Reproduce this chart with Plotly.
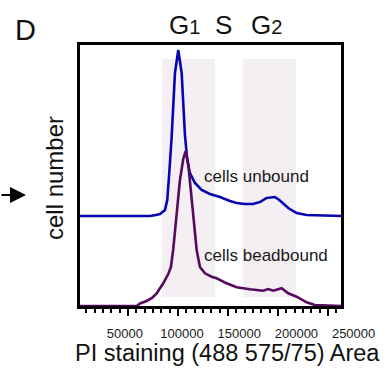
import plotly.graph_objects as go

# ---- data (PI staining area, histogram counts) ----
unbound_x = [0, 72000, 78000, 82000, 87000, 89300, 91300, 93700, 97000, 100300, 103700,
             107000, 109300, 112000, 117000, 123700, 132000, 142000, 152000, 158700,
             167000, 175000, 182000, 188700, 197000, 202000, 210300, 218700, 228700, 264000]
unbound_counts = [0, 0, 1, 2, 6, 16, 43, 79, 143, 166, 143, 81, 56, 43, 33, 26, 22, 19,
                  15, 13, 12, 12, 14, 18, 19, 15.5, 8, 3, 1, 0]

bead_x = [0, 58700, 62000, 68700, 74000, 78700, 85300, 90300, 93000, 95300, 98700, 102000,
          105300, 107700, 110300, 113700, 117000, 118700, 122000, 127000, 133700, 138700,
          148700, 158700, 172000, 185300, 190300, 195300, 203700, 210300, 218700, 228700,
          237000, 264000]
bead_counts = [1, 1, 3.5, 6, 9, 13.7, 23.7, 33, 40, 58, 93, 127, 148, 156, 143, 107, 73,
               57, 40, 33.7, 30.3, 28.7, 23.7, 19.7, 17.7, 16.3, 18, 16.3, 18.7, 13.7, 10.3,
               4.7, 2, 1]

unbound_offset = 91  # vertical stacking offset of the upper histogram

gate_ranges = [(84000, 137000), (165000, 218000)]
phase_labels = ["G<span style='font-size:20px'>1</span>", "S", "G<span style='font-size:20px'>2</span>"]
phase_pos = [107000, 146000, 189000]

tick_vals = [50000, 100000, 150000, 200000, 250000]
tick_text = ["50000", "100000", "150000", "200000", "250000"]

FONT = "Arial, Liberation Sans, sans-serif"

fig = go.Figure()
fig.add_trace(go.Scatter(x=unbound_x, y=[c + unbound_offset for c in unbound_counts],
                         mode="lines", line=dict(color="#0606b0", width=2.6),
                         showlegend=False, hoverinfo="skip"))
fig.add_trace(go.Scatter(x=bead_x, y=bead_counts, mode="lines",
                         line=dict(color="#560a5e", width=2.6),
                         showlegend=False, hoverinfo="skip"))
# dummy trace to carry the tick-label axis
fig.add_trace(go.Scatter(x=[None], y=[None], xaxis="x2", yaxis="y", showlegend=False,
                         hoverinfo="skip"))

for x0, x1 in gate_ranges:
    fig.add_shape(type="rect", xref="x", yref="y", x0=x0, x1=x1, y0=10, y1=248,
                  fillcolor="#f4eff2", line_width=0, layer="below")

fig.update_layout(
    width=389, height=376,
    margin=dict(l=80, r=4, t=45, b=70, autoexpand=False),
    paper_bgcolor="white", plot_bgcolor="rgba(0,0,0,0)",
    font=dict(family=FONT, color="#1a1a1a"),
    xaxis=dict(domain=[0, 0.857], range=[2000, 263500], showline=True, linecolor="black",
               linewidth=2.5, mirror=True, showgrid=False, zeroline=False,
               ticks="outside", ticklen=7, tickwidth=2, tickcolor="black",
               tick0=0, dtick=50000, showticklabels=False, automargin=False,
               minor=dict(ticks="outside", ticklen=4, tickwidth=1.5, tickcolor="black",
                          dtick=50000 / 6, showgrid=False)),
    xaxis2=dict(domain=[0, 1], range=[10839, 277448], anchor="y", showline=False,
                showgrid=False, zeroline=False, tickvals=tick_vals, ticktext=tick_text,
                ticks="outside", ticklen=15, tickcolor="rgba(0,0,0,0)", automargin=False,
                tickfont=dict(size=13, color="#1a1a1a")),
    yaxis=dict(range=[1, 262], showline=True, linecolor="black", linewidth=2.5,
               mirror=True, showgrid=False, zeroline=False, ticks="",
               showticklabels=False, automargin=False),
)

for lab, xp in zip(phase_labels, phase_pos):
    fig.add_annotation(text=lab, x=xp, y=1.0766, xref="x", yref="paper", showarrow=False,
                       xanchor="center", yanchor="middle",
                       font=dict(size=26, family=FONT, color="#111"))

fig.add_annotation(text="D", x=-0.1803, y=1.0575, xref="paper", yref="paper",
                   xanchor="center", yanchor="middle",
                   showarrow=False, font=dict(size=29, family=FONT, color="#111"))
fig.add_annotation(text="PI staining (488 575/75) Area", x=0.482, y=-0.1801,
                   xref="paper", yref="paper", showarrow=False,
                   xanchor="center", yanchor="middle",
                   font=dict(size=23.5, family=FONT, color="#111"))
fig.add_annotation(text="cell number", x=-0.0852, y=0.4904, xref="paper", yref="paper",
                   showarrow=False, textangle=-90, xanchor="center", yanchor="middle",
                   font=dict(size=24, family=FONT, color="#111"))
fig.add_annotation(text="cells unbound", x=124500, y=130.5, xref="x", yref="y",
                   xanchor="left", yanchor="middle", showarrow=False,
                   font=dict(size=17, family=FONT, color="#1a1a1a"))
fig.add_annotation(text="cells beadbound", x=124500, y=51.5, xref="x", yref="y",
                   xanchor="left", yanchor="middle", showarrow=False,
                   font=dict(size=17, family=FONT, color="#1a1a1a"))
fig.add_annotation(text="", x=-0.177, y=0.4253, xref="paper", yref="paper",
                   showarrow=True, ax=-26, ay=0, arrowhead=2, arrowsize=1.6,
                   arrowwidth=2, arrowcolor="black", standoff=0)

fig.write_html("out.html", config={"displayModeBar": False},
               post_script="document.body.style.margin='0';document.body.style.overflow='hidden';")
